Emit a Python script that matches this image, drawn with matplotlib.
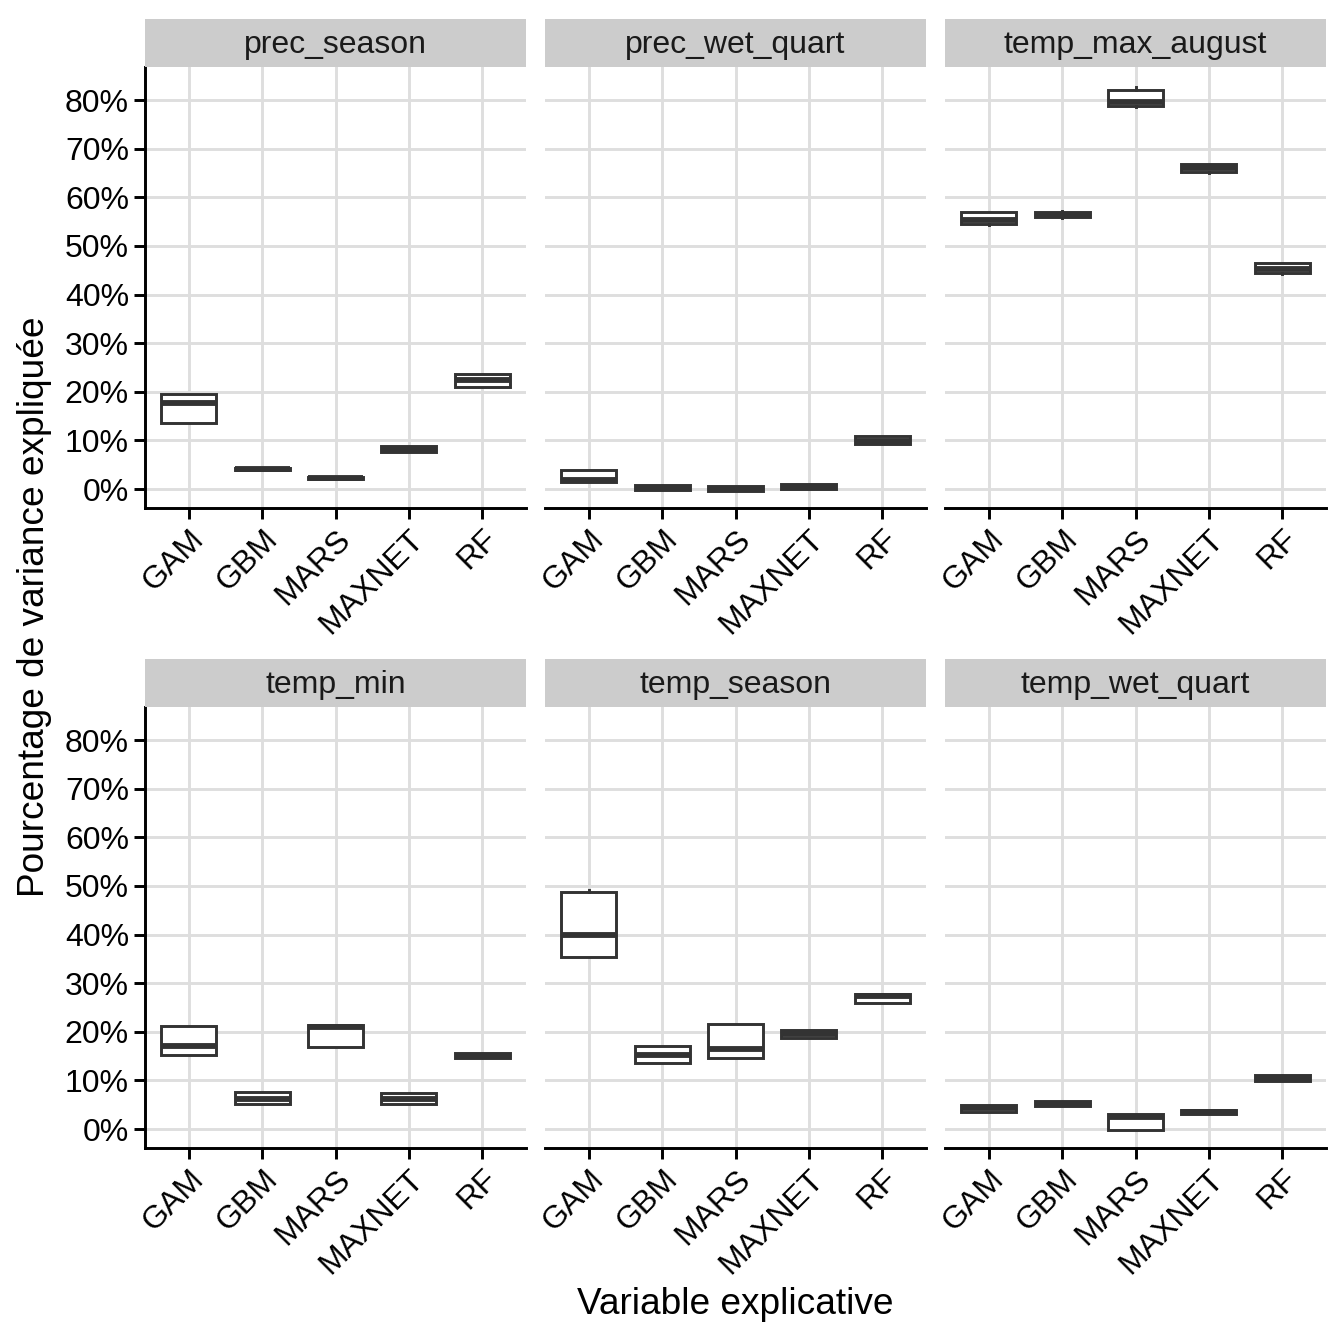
import matplotlib
matplotlib.use("Agg")
import matplotlib.pyplot as plt
import numpy as np

plt.rcParams['font.family'] = ['Liberation Sans', 'DejaVu Sans']

# data (percent of explained variance)
facets = ["prec_season", "prec_wet_quart", "temp_max_august",
          "temp_min", "temp_season", "temp_wet_quart"]
models = ["GAM", "GBM", "MARS", "MAXNET", "RF"]

whis_lo = [[13.5, 3.9, 2.0, 7.6, 21.0],
           [1.5, -0.1, -0.4, 0.0, 9.2],
           [54.4, 55.8, 78.6, 65.1, 44.3],
           [15.3, 5.2, 16.8, 5.2, 14.6],
           [35.3, 13.6, 14.6, 18.8, 25.9],
           [3.6, 4.7, -0.1, 3.0, 9.9]]
q1 = [[13.5, 3.9, 2.0, 7.6, 21.0],
      [1.5, -0.1, -0.4, 0.0, 9.2],
      [54.6, 55.9, 78.7, 65.3, 44.5],
      [15.3, 5.2, 16.8, 5.2, 14.6],
      [35.3, 13.6, 14.6, 18.8, 25.9],
      [3.6, 4.7, -0.1, 3.0, 9.9]]
med = [[17.6, 4.1, 2.2, 8.2, 22.4],
       [1.8, 0.3, 0.0, 0.5, 9.9],
       [55.4, 56.4, 79.6, 66.1, 45.2],
       [17.0, 6.2, 20.9, 6.2, 15.1],
       [39.9, 15.3, 16.5, 19.5, 27.4],
       [4.3, 5.2, 2.5, 3.5, 10.5]]
q3 = [[19.6, 4.3, 2.4, 8.9, 23.6],
      [3.9, 0.8, 0.6, 1.0, 10.9],
      [57.0, 57.0, 82.0, 66.9, 46.5],
      [21.1, 7.7, 21.4, 7.5, 15.6],
      [48.8, 17.1, 21.6, 20.4, 27.8],
      [4.9, 5.8, 3.0, 4.0, 11.1]]
whis_hi = [[19.6, 4.3, 2.4, 8.9, 23.6],
           [3.9, 0.8, 0.6, 1.0, 10.9],
           [57.0, 57.2, 82.6, 66.9, 46.5],
           [21.1, 7.7, 21.4, 7.5, 15.6],
           [49.2, 17.1, 21.6, 20.4, 27.8],
           [4.9, 5.8, 3.0, 4.0, 11.1]]

yticks = np.arange(0, 81, 10)

W = H = 1344
fig = plt.figure(figsize=(7, 7), dpi=192)

col_x = [(145, 526), (545, 926), (945, 1326)]
row_y = [(19, 67, 508), (659, 707, 1148)]  # strip top, panel top, panel bottom

line_col = "#333333"
grid_col = "#DEDEDE"

for i, name in enumerate(facets):
    r, c = divmod(i, 3)
    x0, x1 = col_x[c]
    s0, p0, p1 = row_y[r]
    ax = fig.add_axes([x0 / W, 1 - p1 / H, (x1 - x0) / W, (p1 - p0) / H])
    sax = fig.add_axes([x0 / W, 1 - p0 / H, (x1 - x0) / W, (p0 - s0) / H])
    sax.set_facecolor("#CCCCCC")
    sax.set_xticks([])
    sax.set_yticks([])
    for sp in sax.spines.values():
        sp.set_visible(False)
    sax.text(0.5, 0.45, name, ha="center", va="center", fontsize=12,
             color="#1A1A1A", transform=sax.transAxes)

    stats = []
    for j, m in enumerate(models):
        stats.append(dict(label=m, whislo=whis_lo[i][j], q1=q1[i][j],
                          med=med[i][j], q3=q3[i][j], whishi=whis_hi[i][j]))
    ax.bxp(stats, positions=range(1, 6), widths=0.75, showcaps=False,
           showfliers=False, patch_artist=True,
           boxprops=dict(facecolor="white", edgecolor=line_col, linewidth=1.1),
           medianprops=dict(color=line_col, linewidth=2.2, solid_capstyle="butt"),
           whiskerprops=dict(color=line_col, linewidth=1.1))

    ax.set_xlim(0.4, 5.6)
    ax.set_ylim(-3.9, 86.8)
    ax.set_yticks(yticks)
    ax.set_axisbelow(True)
    ax.grid(True, color=grid_col, linewidth=1.1)
    ax.spines["top"].set_visible(False)
    ax.spines["right"].set_visible(False)
    ax.spines["bottom"].set_linewidth(1.1)
    ax.spines["left"].set_linewidth(1.1)
    ax.tick_params(length=4, width=1.1, color="black", labelsize=12,
                   labelcolor="black", pad=2)
    ax.set_xticks(range(1, 6))
    ax.set_xticklabels(models, rotation=45, ha="right", va="top",
                       rotation_mode="anchor")
    if c == 0:
        ax.set_yticklabels([f"{v}%" for v in yticks])
    else:
        ax.spines["left"].set_visible(False)
        ax.tick_params(axis="y", left=False, labelleft=False)

fig.text(735 / W, 1 - 1305 / H, "Variable explicative", ha="center",
         va="center", fontsize=13.9)
fig.text(35 / W, 1 - 607 / H, "Pourcentage de variance expliquée",
         ha="center", va="center", rotation=90, fontsize=13.9)

fig.savefig("out.png", dpi=192, facecolor="white")
